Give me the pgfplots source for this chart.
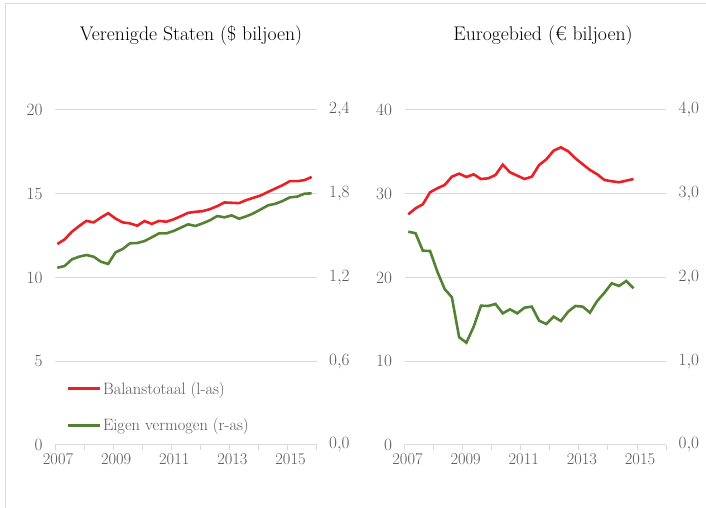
\documentclass[border=0pt]{standalone}
\usepackage{fontspec}
\usepackage{pgfplots}
\pgfplotsset{compat=1.18}
\definecolor{lred}{RGB}{234,32,39}
\definecolor{lgreen}{RGB}{84,130,53}
\definecolor{gridc}{RGB}{217,217,217}
\definecolor{labc}{RGB}{89,89,89}
\pgfplotsset{
 panel/.style={scale only axis, width=261.6bp, height=335bp, anchor=south west,
   xmin=2007, xmax=2016, ymin=0,
   tick label style={font=\fontsize{16.5}{18}\selectfont, text=labc}},
 leftax/.style={panel, axis x line*=bottom, axis y line*=left,
   x axis line style={gridc, line width=1bp}, y axis line style={draw=none},
   xtick={2007,...,2016}, xticklabels={2007,,2009,,2011,,2013,,2015,},
   xticklabel style={xshift=3bp},
   yticklabel style={xshift=-4bp},
   x tick style={gridc, line width=1bp}, tick align=outside, major tick length=5bp,
   ytick style={draw=none}, ymajorgrids, grid style={gridc, line width=1bp},
   /pgf/number format/1000 sep={}},
 rightax/.style={panel, axis x line=none, axis y line*=right, y axis line style={draw=none},
   ytick style={draw=none}, yticklabel style={xshift=9bp},
   /pgf/number format/use comma, /pgf/number format/fixed, /pgf/number format/fixed zerofill,
   /pgf/number format/precision=1},
}
\begin{document}
\begin{tikzpicture}[x=1bp,y=1bp]
\useasboundingbox (0,0) rectangle (706,508);
\draw[gridc, line width=1bp] (5,0) -- (5,504) -- (706,504);
\node[font=\fontsize{19.8}{22}\selectfont] at (191,472) {Verenigde Staten (\$ biljoen)};
\node[font=\fontsize{19.8}{22}\selectfont] at (543,472) {Eurogebied (€ biljoen)};
% ---------- US left
\begin{axis}[leftax, at={(55bp,63bp)}, ymax=20, ytick={0,5,...,20},
  legend style={at={(0.043,0.195)}, anchor=north west, draw=none, fill=none,
    font=\fontsize{16.5}{18}\selectfont, text=labc, row sep=19bp, inner sep=0pt,
    /tikz/every even column/.append style={column sep=0bp}},
  legend cell align=left,
  legend image code/.code={\draw[#1] (0bp,0bp) -- (32bp,0bp);}]
\addplot[lred, line width=2.6bp] coordinates {
(2007.08,12.0)(2007.33,12.27)(2007.58,12.73)(2007.83,13.07)
(2008.08,13.38)(2008.33,13.29)(2008.58,13.58)(2008.83,13.84)
(2009.08,13.52)(2009.33,13.29)(2009.58,13.23)(2009.83,13.09)
(2010.08,13.37)(2010.33,13.2)(2010.58,13.38)(2010.83,13.33)
(2011.08,13.47)(2011.33,13.66)(2011.58,13.86)(2011.83,13.92)
(2012.08,13.96)(2012.33,14.08)(2012.58,14.26)(2012.83,14.48)
(2013.08,14.46)(2013.33,14.44)(2013.58,14.62)(2013.83,14.76)
(2014.08,14.9)(2014.33,15.11)(2014.58,15.31)(2014.83,15.51)
(2015.08,15.75)(2015.33,15.75)(2015.58,15.81)(2015.83,16.0)};
\addlegendentry{Balanstotaal (l-as)}
\addlegendimage{lgreen, line width=2.6bp}
\addlegendentry{Eigen vermogen (r-as)}
\end{axis}
% ---------- US right
\begin{axis}[rightax, at={(55bp,63bp)}, ymax=2.4, ytick={0,0.6,...,2.4}]
\addplot[lgreen, line width=2.6bp] coordinates {
(2007.08,1.27)(2007.33,1.282)(2007.58,1.33)(2007.83,1.349)
(2008.08,1.361)(2008.33,1.349)(2008.58,1.313)(2008.83,1.297)
(2009.08,1.38)(2009.33,1.404)(2009.58,1.445)(2009.83,1.447)
(2010.08,1.461)(2010.33,1.488)(2010.58,1.516)(2010.83,1.516)
(2011.08,1.533)(2011.33,1.557)(2011.58,1.581)(2011.83,1.569)
(2012.08,1.588)(2012.33,1.61)(2012.58,1.64)(2012.83,1.631)
(2013.08,1.645)(2013.33,1.621)(2013.58,1.638)(2013.83,1.66)
(2014.08,1.688)(2014.33,1.717)(2014.58,1.728)(2014.83,1.748)
(2015.08,1.774)(2015.33,1.779)(2015.58,1.8)(2015.83,1.803)};
\end{axis}
% ---------- EA left
\begin{axis}[leftax, at={(404.5bp,63bp)}, ymax=40, ytick={0,10,...,40}]
\addplot[lred, line width=2.6bp] coordinates {
(2007.13,27.54)(2007.38,28.26)(2007.63,28.74)(2007.88,30.17)
(2008.13,30.65)(2008.38,31.04)(2008.63,32.04)(2008.88,32.4)
(2009.13,32.0)(2009.38,32.32)(2009.63,31.76)(2009.88,31.84)
(2010.13,32.24)(2010.38,33.47)(2010.63,32.56)(2010.88,32.16)
(2011.13,31.76)(2011.38,32.04)(2011.63,33.43)(2011.88,34.11)
(2012.13,35.14)(2012.38,35.54)(2012.63,35.07)(2012.88,34.23)
(2013.13,33.52)(2013.38,32.84)(2013.63,32.32)(2013.88,31.64)
(2014.13,31.49)(2014.38,31.37)(2014.63,31.56)(2014.88,31.76)};
\end{axis}
% ---------- EA right
\begin{axis}[rightax, at={(404.5bp,63bp)}, ymax=4, ytick={0,1,...,4}]
\addplot[lgreen, line width=2.6bp] coordinates {
(2007.13,2.547)(2007.38,2.528)(2007.63,2.32)(2007.88,2.316)
(2008.13,2.07)(2008.38,1.863)(2008.63,1.763)(2008.88,1.286)
(2009.13,1.222)(2009.38,1.413)(2009.63,1.663)(2009.88,1.66)
(2010.13,1.684)(2010.38,1.572)(2010.63,1.62)(2010.88,1.572)
(2011.13,1.64)(2011.38,1.652)(2011.63,1.484)(2011.88,1.445)
(2012.13,1.532)(2012.38,1.48)(2012.63,1.592)(2012.88,1.66)
(2013.13,1.652)(2013.38,1.58)(2013.63,1.72)(2013.88,1.819)
(2014.13,1.931)(2014.38,1.899)(2014.63,1.958)(2014.88,1.871)};
\end{axis}
\end{tikzpicture}
\end{document}
